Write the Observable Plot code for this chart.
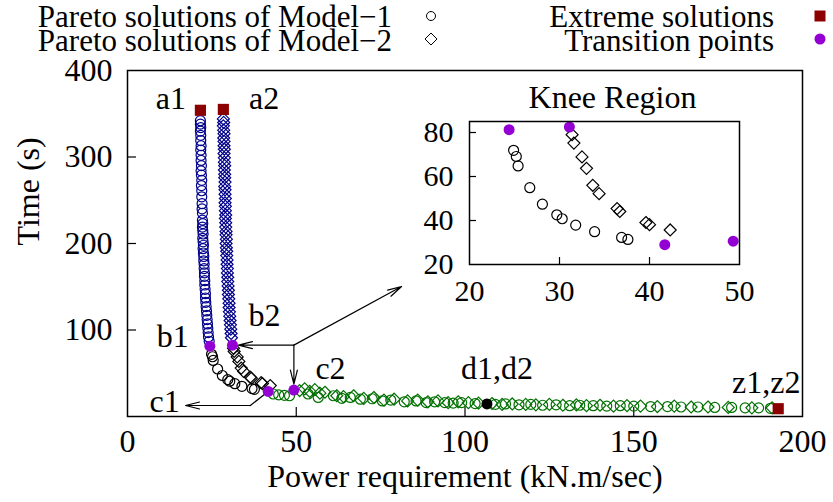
<!DOCTYPE html>
<html>
<head>
<meta charset="utf-8">
<script src="https://cdn.jsdelivr.net/npm/d3@7"></script>
<script src="https://cdn.jsdelivr.net/npm/@observablehq/plot@0.6"></script>
<style>
  html, body { margin: 0; padding: 0; background: #fff; }
  #chart { position: relative; width: 833px; height: 502px; overflow: hidden;
           font-family: "Liberation Serif", "Times New Roman", serif; }
  #chart > svg, #chart > figure { position: absolute; margin: 0; }
</style>
</head>
<body>
<div id="chart"></div>
<script>
// Pareto fronts: power requirement (kN.m/sec) vs. time (s), pairs of [power, time]

// Model-1, steep branch a1 -> b1
const model1Steep = [
  [21.6,342],[21.6,338],[21.7,334],[21.6,330],[21.7,325],[21.7,319],[21.8,313],[21.7,308],
  [21.8,302],[21.8,296],[21.9,290],[21.8,284],[21.9,279],[22.0,273],[21.9,267],[22.0,261],
  [22.0,254],[22.1,246],[22.1,240],[22.2,235],[22.2,227],[22.3,223],[22.2,219],[22.3,215],
  [22.4,211],[22.3,206],[22.4,202],[22.5,198],[22.4,194],[22.5,189],[22.6,185],[22.6,180],
  [22.7,176],[22.7,171],[22.8,166],[22.8,162],[22.9,157],[22.9,152],[23.0,147],[23.1,142],
  [23.1,137],[23.2,132],[23.3,127],[23.4,122],[23.5,117],[23.6,112],[23.7,107],[23.8,102],
  [23.9,97],[24.0,92],[24.2,87]
];
// Model-1, knee b1 -> c1
const model1Knee = [
  [24.9,71.9],[25.2,69.1],[25.4,64.8],[26.7,54.9],[28.1,47.4],[29.7,42.6],
  [30.3,40.8],[31.8,37.9],[33.9,34.9],[36.9,32.3],[37.6,31.4]
];
// Model-1, flat branch c1 -> z1
const model1Flat = [
  [43.2,26],[44.8,25],[46.5,24.5],[48,24],[53.5,26],[56.5,22],[61,24],[63.5,21],[66,22],
  [69,20],[72.5,20.5],[75.5,18],[78,19],[82,17],[85.5,18],[88.5,16],[91,17],[94,16],
  [96.5,15.5],[99,16],[103,15],[109,14],[112,14.5],[116,13.5],[119.5,14],[123,13],
  [127,13.5],[131,12.5],[134,13],[138,12.5],[142,12],[146,12.5],[150,12],[155,11.5],
  [160,11.5],[164,11],[169,11],[174,10.5],[179,10.5],[183,10],[187,10],[190.5,9.5]
];

// Model-2, steep branch a2 -> b2
const model2Steep = [
  [28.4,344],[28.5,340],[28.4,336],[28.5,331],[28.6,327],[28.5,322],[28.6,318],[28.6,313],
  [28.7,309],[28.6,304],[28.7,299],[28.7,294],[28.8,290],[28.7,285],[28.8,280],[28.8,276],
  [28.9,271],[28.8,266],[28.9,262],[28.9,257],[29.0,252],[28.9,247],[29.0,243],[29.0,238],
  [29.1,233],[29.0,229],[29.1,224],[29.1,219],[29.2,214],[29.2,210],[29.3,205],[29.2,200],
  [29.3,195],[29.4,191],[29.4,186],[29.5,181],[29.5,176],[29.6,171],[29.6,166],[29.7,161],
  [29.7,156],[29.8,151],[29.9,146],[29.9,141],[30.0,136],[30.1,131],[30.1,126],[30.2,121],
  [30.3,116],[30.4,111],[30.5,106],[30.6,101],[30.7,96],[30.8,91]
];
// Model-2, knee b2 -> c2
const model2Knee = [
  [31.4,79.0],[31.6,75.2],[32.5,68.9],[33.0,63.7],[33.7,56.0],[34.4,52.2],
  [36.4,45.4],[36.7,44.1],[39.6,39.1],[40.0,38.1],[42.3,35.7]
];
// Model-2, flat branch c2 -> z2
const model2Flat = [
  [51,30],[52.5,32],[54,29],[55.5,31],[57,27],[58.5,28],[62,24],[64,23],[67,24],[70,21],
  [73,22],[76,19],[79,20],[83,18],[86,19],[89,17],[92,18],[95,16],[98,17],[101,16],
  [104,15.5],[108,15],[111,14],[114,14.5],[118,14],[121,13.5],[125,14],[129,13],[133,13.5],
  [136,12.5],[140,13],[144,12],[148,12.5],[152,12],[157,11.5],[162,12],[167,11],[172,11],
  [178,10.5],[185,10],[191,10]
];

// Named solutions
const extremeNames = ["a1", "a2", "z1,z2"];
const extremeValues = [[21.6,354],[28.4,355],[192.8,9]];
const transitionNames = ["b1", "b2", "c1", "c2"];
const transitionValues = [[24.4,81.3],[31.1,82.5],[41.7,29.0],[49.3,30.6]];
const sharedName = "d1,d2";
const sharedValue = [106.5,14.5];

// Annotation geometry (data units)
const c1Elbow = [36.4,12.7];
const c1Tip = [17.2,12.7];
const insetPointer = [81.2,150.3];

// Axes
const xTicks = [0,50,100,150,200];
const yTicks = [100,200,300,400];
const kneeXTicks = [20,30,40,50];
const kneeYTicks = [20,40,60,80];

const legendLabels = ["Pareto solutions of Model\u22121", "Pareto solutions of Model\u22122",
                      "Extreme solutions", "Transition points"];
const xLabel = "Power requirement (kN.m/sec)";
const yLabel = "Time (s)";
const kneeTitle = "Knee Region";

// ---------------------------------------------------------------------------
const FONT = '"Liberation Serif", "Times New Roman", serif';
const steepColor = "#00008b";
const kneeColor = "#000000";
const flatColor = "#007000";
const extremeColor = "#8b0000";
const transitionColor = "#9400d3";

const pts = a => a.map(([p, t]) => ({p, t}));
const named = (names, vals) => names.map((name, i) => ({name, p: vals[i][0], t: vals[i][1]}));

const extremes = named(extremeNames, extremeValues);
const transitions = named(transitionNames, transitionValues);
const shared = {name: sharedName, p: sharedValue[0], t: sharedValue[1]};
const [a1, a2, z] = extremes;
const [b1, b2, c1, c2] = transitions;
const hub = {p: c2.p, t: b2.t};

const circleStyle = color => ({x: "p", y: "t", r: 5, stroke: color, strokeWidth: 1.2, fill: "none"});
const diamondStyle = color => ({x: "p", y: "t", r: 5.4, symbol: "diamond2", stroke: color, strokeWidth: 1.2, fill: "none"});

const label = (pt, dx, dy) => Plot.text([pt], {
  x: "p", y: "t", text: "name", dx, dy, fontSize: 32, textAnchor: "middle", lineAnchor: "middle", fill: "black"
});

const chart = document.getElementById("chart");

// ---- legend (above the plot) ----
const legend = d3.create("svg").attr("width", 833).attr("height", 62)
  .style("left", "0px").style("top", "0px").style("overflow", "visible")
  .attr("font-family", FONT).attr("font-size", 31);
const legendRows = [
  {text: legendLabels[0], tx: 392, ty: 27, sx: 431, sy: 16, kind: "circle"},
  {text: legendLabels[1], tx: 392, ty: 51, sx: 431, sy: 39, kind: "diamond"},
  {text: legendLabels[2], tx: 774, ty: 27, sx: 820, sy: 16, kind: "square"},
  {text: legendLabels[3], tx: 774, ty: 51, sx: 820, sy: 39, kind: "dot"}
];
for (const row of legendRows) {
  legend.append("text").attr("x", row.tx).attr("y", row.ty).attr("text-anchor", "end").text(row.text);
  const g = legend.append("g").attr("transform", `translate(${row.sx},${row.sy})`);
  if (row.kind === "circle") g.append("circle").attr("r", 4.5).attr("fill", "none").attr("stroke", "black").attr("stroke-width", 1);
  if (row.kind === "diamond") g.append("path").attr("d", "M0,-6L6,0L0,6L-6,0Z").attr("fill", "none").attr("stroke", "black").attr("stroke-width", 1);
  if (row.kind === "square") g.append("rect").attr("x", -5.5).attr("y", -5.5).attr("width", 11).attr("height", 11).attr("fill", extremeColor);
  if (row.kind === "dot") g.append("circle").attr("r", 5.5).attr("fill", transitionColor);
}
chart.appendChild(legend.node());

// ---- main plot ----
const main = Plot.plot({
  width: 833, height: 447,
  marginTop: 15, marginBottom: 86, marginLeft: 127, marginRight: 31,
  style: {fontFamily: FONT, fontSize: "32px", background: "transparent", color: "black", overflow: "visible"},
  x: {domain: [0, 200], label: null},
  y: {domain: [0, 400], label: null},
  marks: [
    Plot.axisX(xTicks, {tickSize: 0, tickPadding: 13, fontSize: 32, label: null}),
    Plot.axisX(xTicks.slice(1, -1), {tickSize: -9, text: null, label: null, strokeWidth: 1.2}),
    Plot.axisY(yTicks, {tickSize: 0, tickPadding: 15, fontSize: 32, label: null}),
    Plot.axisY(yTicks.slice(0, -1), {tickSize: -9, text: null, label: null, strokeWidth: 1.2}),
    Plot.text([xLabel], {frameAnchor: "bottom", dy: 60, fontSize: 32, lineAnchor: "middle"}),
    Plot.text([yLabel], {frameAnchor: "left", dx: -99, dy: 2, rotate: -90, fontSize: 32, lineAnchor: "middle"}),

    // leader lines
    Plot.arrow([hub, hub], {
      x1: "p", y1: "t",
      x2: (d, i) => i === 0 ? b2.p : c2.p,
      y2: (d, i) => i === 0 ? b2.t : c2.t,
      insetEnd: 6, headLength: 18, headAngle: 28, stroke: "black", strokeWidth: 1.2
    }),
    Plot.arrow([hub], {
      x1: "p", y1: "t", x2: () => insetPointer[0], y2: () => insetPointer[1],
      headLength: 18, headAngle: 28, stroke: "black", strokeWidth: 1.2
    }),
    Plot.line([c1, {p: c1Elbow[0], t: c1Elbow[1]}], {x: "p", y: "t", stroke: "black", strokeWidth: 1.2}),
    Plot.arrow([c1Elbow], {
      x1: d => d[0], y1: d => d[1], x2: () => c1Tip[0], y2: () => c1Tip[1],
      headLength: 18, headAngle: 28, stroke: "black", strokeWidth: 1.2
    }),

    Plot.dot(pts(model1Flat), circleStyle(flatColor)),
    Plot.dot(pts(model2Flat), diamondStyle(flatColor)),
    Plot.dot(pts(model1Steep), circleStyle(steepColor)),
    Plot.dot(pts(model2Steep), diamondStyle(steepColor)),
    Plot.dot(pts(model1Knee), circleStyle(kneeColor)),
    Plot.dot(pts(model2Knee), diamondStyle(kneeColor)),
    Plot.dot([shared], {x: "p", y: "t", r: 5.5, fill: "black"}),
    Plot.dot(transitions, {x: "p", y: "t", r: 5.5, fill: transitionColor}),
    Plot.dot(extremes, {x: "p", y: "t", r: 6.3, symbol: "square", fill: extremeColor}),

    label(a1, -29.5, -11.4),
    label(a2, 40.7, -10.4),
    label(b1, -37, -9),
    label(b2, 32, -29.5),
    label(c1, -103.7, 10.8),
    label(c2, 36.6, -21.7),
    label(shared, 10, -35.5),
    label(z, -12, -26),

    Plot.frame({stroke: "black", strokeWidth: 1.5})
  ]
});
main.style.left = "0px";
main.style.top = "55px";
chart.appendChild(main);

// ---- knee-region inset ----
const inset = Plot.plot({
  width: 400, height: 240,
  marginTop: 51, marginBottom: 46, marginLeft: 69, marginRight: 61,
  style: {fontFamily: FONT, fontSize: "30px", background: "transparent", color: "black", overflow: "visible"},
  x: {domain: [20, 50], label: null},
  y: {domain: [20, 85], label: null},
  marks: [
    Plot.axisX(kneeXTicks, {tickSize: 0, tickPadding: 15, fontSize: 30, label: null}),
    Plot.axisX(kneeXTicks.slice(1, -1), {tickSize: -7, text: null, label: null, strokeWidth: 1.2}),
    Plot.axisY(kneeYTicks, {tickSize: 0, tickPadding: 16, fontSize: 30, label: null}),
    Plot.axisY(kneeYTicks.slice(1), {tickSize: -7, text: null, label: null, strokeWidth: 1.2}),
    Plot.text([kneeTitle], {frameAnchor: "top", dx: 8, dy: -24, fontSize: 32, lineAnchor: "middle"}),
    Plot.dot(pts(model1Knee), circleStyle(kneeColor)),
    Plot.dot(pts(model2Knee), diamondStyle(kneeColor)),
    Plot.dot(transitions, {x: "p", y: "t", r: 5.5, fill: transitionColor}),
    Plot.frame({stroke: "black", strokeWidth: 1.5})
  ]
});
inset.style.left = "400px";
inset.style.top = "70px";
chart.appendChild(inset);
</script>
</body>
</html>
